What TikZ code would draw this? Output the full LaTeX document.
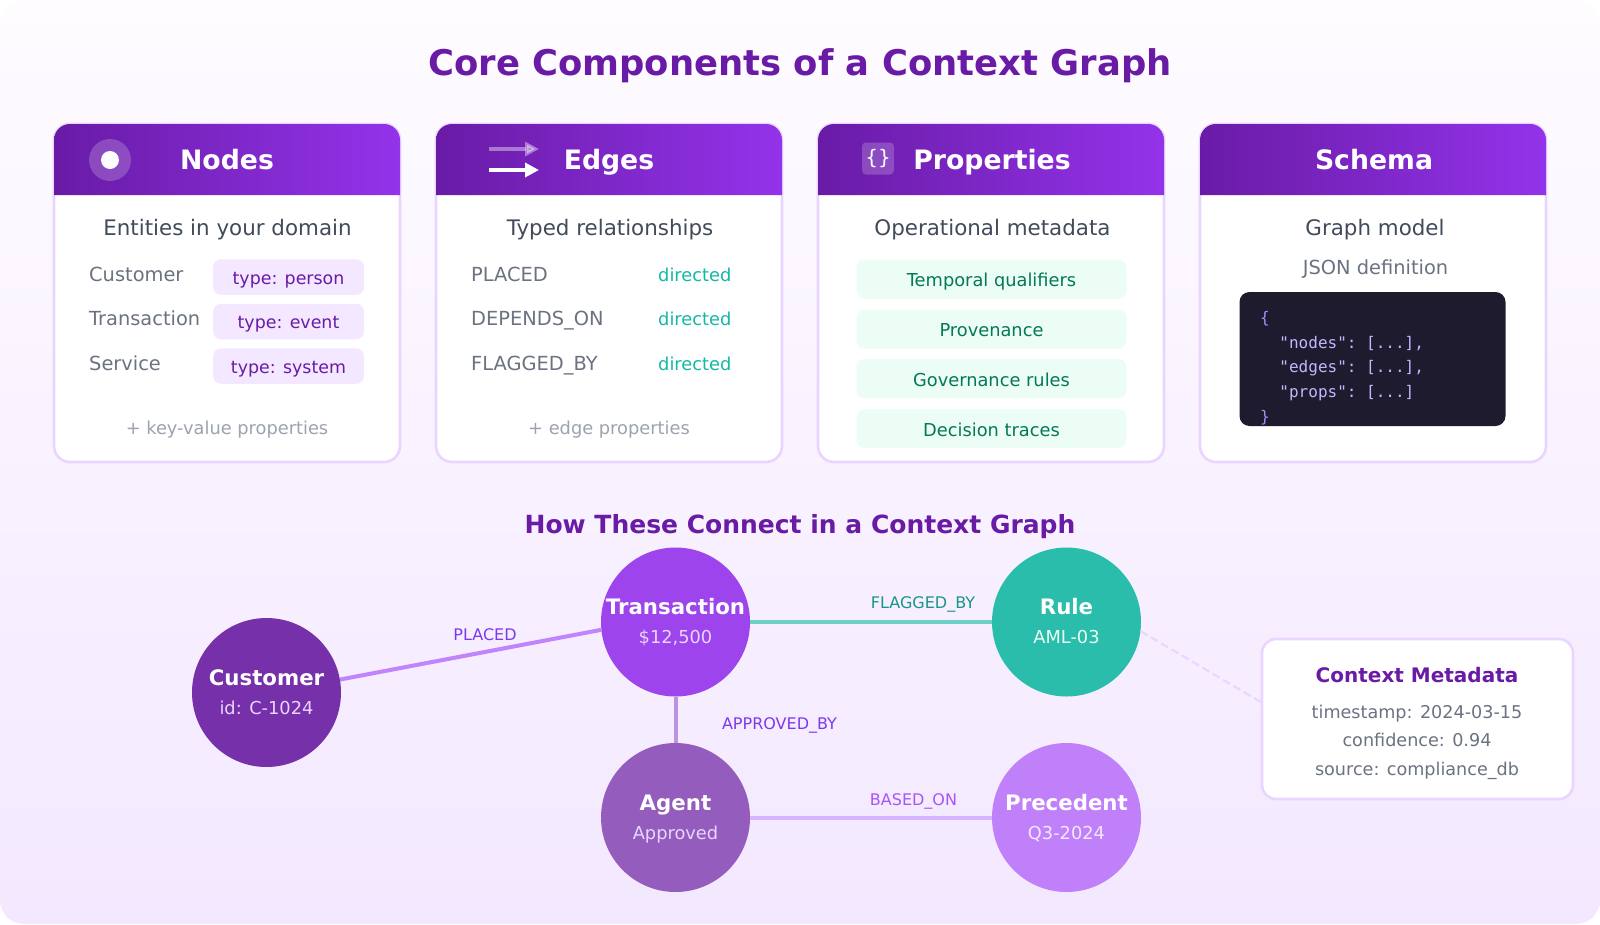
\documentclass[tikz,border=0pt]{standalone}
\usepackage{xcolor}
\usepackage{fontspec}
\setmainfont{DejaVu Sans}
\setmonofont{DejaVu Sans Mono}
\usetikzlibrary{arrows.meta, shapes.geometric}
\definecolor{mypurple}{RGB}{105,27,166}
\definecolor{myviolet}{RGB}{147,51,234}
\definecolor{myindigo}{RGB}{124,58,237}
\definecolor{myorchid}{RGB}{168,85,247}
\definecolor{myedge}{RGB}{233,213,255}
\definecolor{mypale}{RGB}{243,232,255}
\definecolor{mytop}{RGB}{254,252,255}
\definecolor{myslate}{RGB}{66,75,92}
\definecolor{mygray}{RGB}{107,114,128}
\definecolor{mylight}{RGB}{156,163,175}
\definecolor{myteal}{RGB}{20,184,166}
\definecolor{mydeep}{RGB}{22,150,136}
\definecolor{mymint}{RGB}{236,253,245}
\definecolor{mygreen}{RGB}{4,120,87}
\definecolor{mycode}{RGB}{30,27,46}
\definecolor{mybrace}{RGB}{167,139,250}
\definecolor{mystring}{RGB}{196,181,253}
\tikzset{
  card/.style={rectangle, draw=myedge, fill=white, line width=2.6pt, rounded corners=16pt,
    minimum width=346pt, minimum height=338pt, inner sep=0pt, outer sep=0pt},
  hdrgrad/.style={left color=mypurple, right color=myviolet},
  hdrtext/.style={anchor=base, text=white, font=\fontsize{26.7}{30}\selectfont\bfseries},
  subtext/.style={anchor=base, text=myslate, font=\fontsize{21.4}{26}\selectfont},
  rowtext/.style={anchor=base west, inner sep=0pt, text=mygray, font=\fontsize{19.4}{24}\selectfont},
  foottext/.style={anchor=base, text=mylight, font=\fontsize{17.8}{22}\selectfont},
  dirtext/.style={anchor=base west, inner sep=0pt, text=myteal, font=\fontsize{17.8}{22}\selectfont},
  tagbox/.style={rectangle, fill=mypale, text=mypurple, rounded corners=8pt, inner sep=0pt,
    minimum width=151pt, minimum height=35.5pt, text height=18pt, text depth=4pt,
    font=\fontsize{17.4}{22}\selectfont},
  propbox/.style={rectangle, fill=mymint, text=mygreen, rounded corners=8pt, inner sep=0pt,
    minimum width=270pt, minimum height=39pt, text height=19pt, text depth=4pt,
    font=\fontsize{17.8}{22}\selectfont}
}
\begin{document}
\begin{tikzpicture}[x=1pt, y=-1pt,
  gnode/.style={circle, minimum size=149pt, inner sep=0pt, outer sep=0pt},
  gname/.style={anchor=base, text=white, font=\fontsize{21.3}{25}\selectfont\bfseries},
  gsub/.style={anchor=base, font=\fontsize{17.8}{22}\selectfont},
  gline/.style={line width=4pt},
  elabel/.style={anchor=base, font=\fontsize{16}{20}\selectfont},
  metatext/.style={anchor=base, text=mygray, font=\fontsize{17.6}{22}\selectfont}]

  \useasboundingbox (0,0) rectangle (1600,924);
  \fill[white] (0,0) rectangle (1600,924);
  \shade[top color=mytop, bottom color=mypale, rounded corners=24pt] (0,0) rectangle (1600,924);

  \node[anchor=base, text=mypurple, font=\fontsize{35.4}{42}\selectfont\bfseries] (title) at (800,75) {Core Components of a Context Graph};

  \node[card] (c1) at (227,293) {};
  \node[card] (c2) at (609,293) {};
  \node[card] (c3) at (991,293) {};
  \node[card] (c4) at (1373,293) {};

  \shade[hdrgrad] (54,195) [rounded corners=16pt] -- (54,124) -- (400,124) [sharp corners] -- (400,195) -- cycle;
  \shade[hdrgrad] (436,195) [rounded corners=16pt] -- (436,124) -- (782,124) [sharp corners] -- (782,195) -- cycle;
  \shade[hdrgrad] (818,195) [rounded corners=16pt] -- (818,124) -- (1164,124) [sharp corners] -- (1164,195) -- cycle;
  \shade[hdrgrad] (1200,195) [rounded corners=16pt] -- (1200,124) -- (1546,124) [sharp corners] -- (1546,195) -- cycle;

  \fill[white, opacity=0.2] (110,160) circle[radius=21pt];
  \fill[white] (110,160) circle[radius=9pt];
  \coordinate (e1a) at (489,149);
  \coordinate (e1b) at (539,149);
  \coordinate (e2a) at (489,170);
  \coordinate (e2b) at (539,170);
  \draw[-{Triangle[length=14pt, width=14pt]}, white, opacity=0.4, line width=4pt] (e1a) -- (e1b);
  \draw[-{Triangle[length=14pt, width=14pt]}, white, line width=4pt] (e2a) -- (e2b);
  \node[rectangle, fill=white, fill opacity=0.2, text opacity=1, text=white, rounded corners=4pt, inner sep=0pt, minimum size=32pt, font=\fontsize{20}{24}\selectfont] (brace) at (878,158.5) {\raisebox{-1pt}{\{\}}};

  \node[hdrtext] (h1) at (227,169.5) {Nodes};
  \node[hdrtext] (h2) at (609,169.5) {Edges};
  \node[hdrtext] (h3) at (992,169.5) {Properties};
  \node[hdrtext] (h4) at (1374,169.5) {Schema};

  \node[subtext] (s1) at (227.5,235) {Entities in your domain};
  \node[subtext] (s2) at (610,235) {Typed relationships};
  \node[subtext] (s3) at (992.5,235) {Operational metadata};
  \node[subtext] (s4) at (1375,235) {Graph model};

  \node[rowtext] (r1) at (89,281) {Customer};
  \node[rowtext] (r2) at (89,325.5) {Transaction};
  \node[rowtext] (r3) at (89,370) {Service};
  \node[tagbox] (t1) at (288.5,277) {type: person};
  \node[tagbox] (t2) at (288.5,321.5) {type: event};
  \node[tagbox] (t3) at (288.5,366) {type: system};
  \node[foottext] (f1) at (227,434) {+ key-value properties};

  \node[rowtext] (l1) at (471,281) {PLACED};
  \node[rowtext] (l2) at (471,325.5) {DEPENDS\_ON};
  \node[rowtext] (l3) at (471,370) {FLAGGED\_BY};
  \node[dirtext] (d1) at (658,281) {directed};
  \node[dirtext] (d2) at (658,325.5) {directed};
  \node[dirtext] (d3) at (658,370) {directed};
  \node[foottext] (f2) at (609,434) {+ edge properties};

  \node[propbox] (p1) at (991.5,279) {Temporal qualifiers};
  \node[propbox] (p2) at (991.5,329) {Provenance};
  \node[propbox] (p3) at (991.5,378.5) {Governance rules};
  \node[propbox] (p4) at (991.5,428.5) {Decision traces};

  \node[anchor=base, text=mygray, font=\fontsize{19.4}{24}\selectfont] (json) at (1375.5,274) {JSON definition};
  \node[rectangle, fill=mycode, rounded corners=10pt, minimum width=266pt, minimum height=134pt] (code) at (1372.5,359) {};
  \node[anchor=north west, inner sep=0pt, align=left, text=mystring, font=\ttfamily\fontsize{16}{24.8}\selectfont] (json2) at (1260,311) {\textcolor{mybrace}{\{}\\\phantom{xx}"nodes": [...],\\\phantom{xx}"edges": [...],\\\phantom{xx}"props": [...]\\\textcolor{mybrace}{\}}};

  \node[anchor=base, text=mypurple, font=\fontsize{25}{30}\selectfont\bfseries] (howto) at (800,533) {How These Connect in a Context Graph};

  \node[gnode, fill={rgb,255:red,118;green,48;blue,170}] (cust) at (266.5,692.5) {};
  \node[gnode, fill={rgb,255:red,157;green,68;blue,236}] (txn) at (675.5,622) {};
  \node[gnode, fill={rgb,255:red,148;green,92;blue,189}] (agent) at (675.5,817.5) {};
  \node[gnode, fill={rgb,255:red,42;green,189;blue,171}] (rule) at (1066.5,622) {};
  \node[gnode, fill={rgb,255:red,191;green,128;blue,249}] (prec) at (1066.5,817.5) {};

  \draw[gline, color={rgb,255:red,192;green,132;blue,252}] (cust.10) -- (txn.186);
  \draw[gline, color={rgb,255:red,111;green,208;blue,197}] (txn) -- (rule);
  \draw[gline, color={rgb,255:red,186;green,148;blue,224}] (txn) -- (agent);
  \draw[gline, color={rgb,255:red,216;green,180;blue,254}] (agent) -- (prec);

  \node[gname] (n1) at (266.5,685.7) {Customer};
  \node[gsub, text=myedge] (m1) at (266.5,714.5) {id: C-1024};
  \node[gname] (n2) at (675.5,614.7) {Transaction};
  \node[gsub, text=myedge] (m2) at (675.5,643.7) {\$12,500};
  \node[gname] (n3) at (675.5,810) {Agent};
  \node[gsub, text=myedge] (m3) at (675.5,839) {Approved};
  \node[gname] (n4) at (1066.5,614.7) {Rule};
  \node[gsub, text=mymint] (m4) at (1066.5,643.7) {AML-03};
  \node[gname] (n5) at (1066.5,810) {Precedent};
  \node[gsub, text=mypale] (m5) at (1066.5,839) {Q3-2024};

  \node[elabel, text=myindigo] (e1) at (485,640) {PLACED};
  \node[elabel, text=mydeep] (e2) at (923,608) {FLAGGED\_BY};
  \node[elabel, text=myindigo] (e3) at (779.5,729) {APPROVED\_BY};
  \node[elabel, text=myorchid] (e4) at (913.5,805) {BASED\_ON};

  \node[rectangle, draw=myedge, fill=white, line width=2.6pt, rounded corners=14pt, minimum width=311pt, minimum height=160pt, outer sep=0pt] (meta) at (1417.5,719) {};
  \draw[myedge, line width=2pt, dash pattern=on 8pt off 4pt] (rule.-7) -- (meta.174);
  \node[anchor=base, text=mypurple, font=\fontsize{20}{24}\selectfont\bfseries] (mt) at (1417,682) {Context Metadata};
  \node[metatext] (mt1) at (1417,718.5) {timestamp: 2024-03-15};
  \node[metatext] (mt2) at (1417,746.5) {confidence: 0.94};
  \node[metatext] (mt3) at (1417,775) {source: compliance\_db};

\end{tikzpicture}
\end{document}
